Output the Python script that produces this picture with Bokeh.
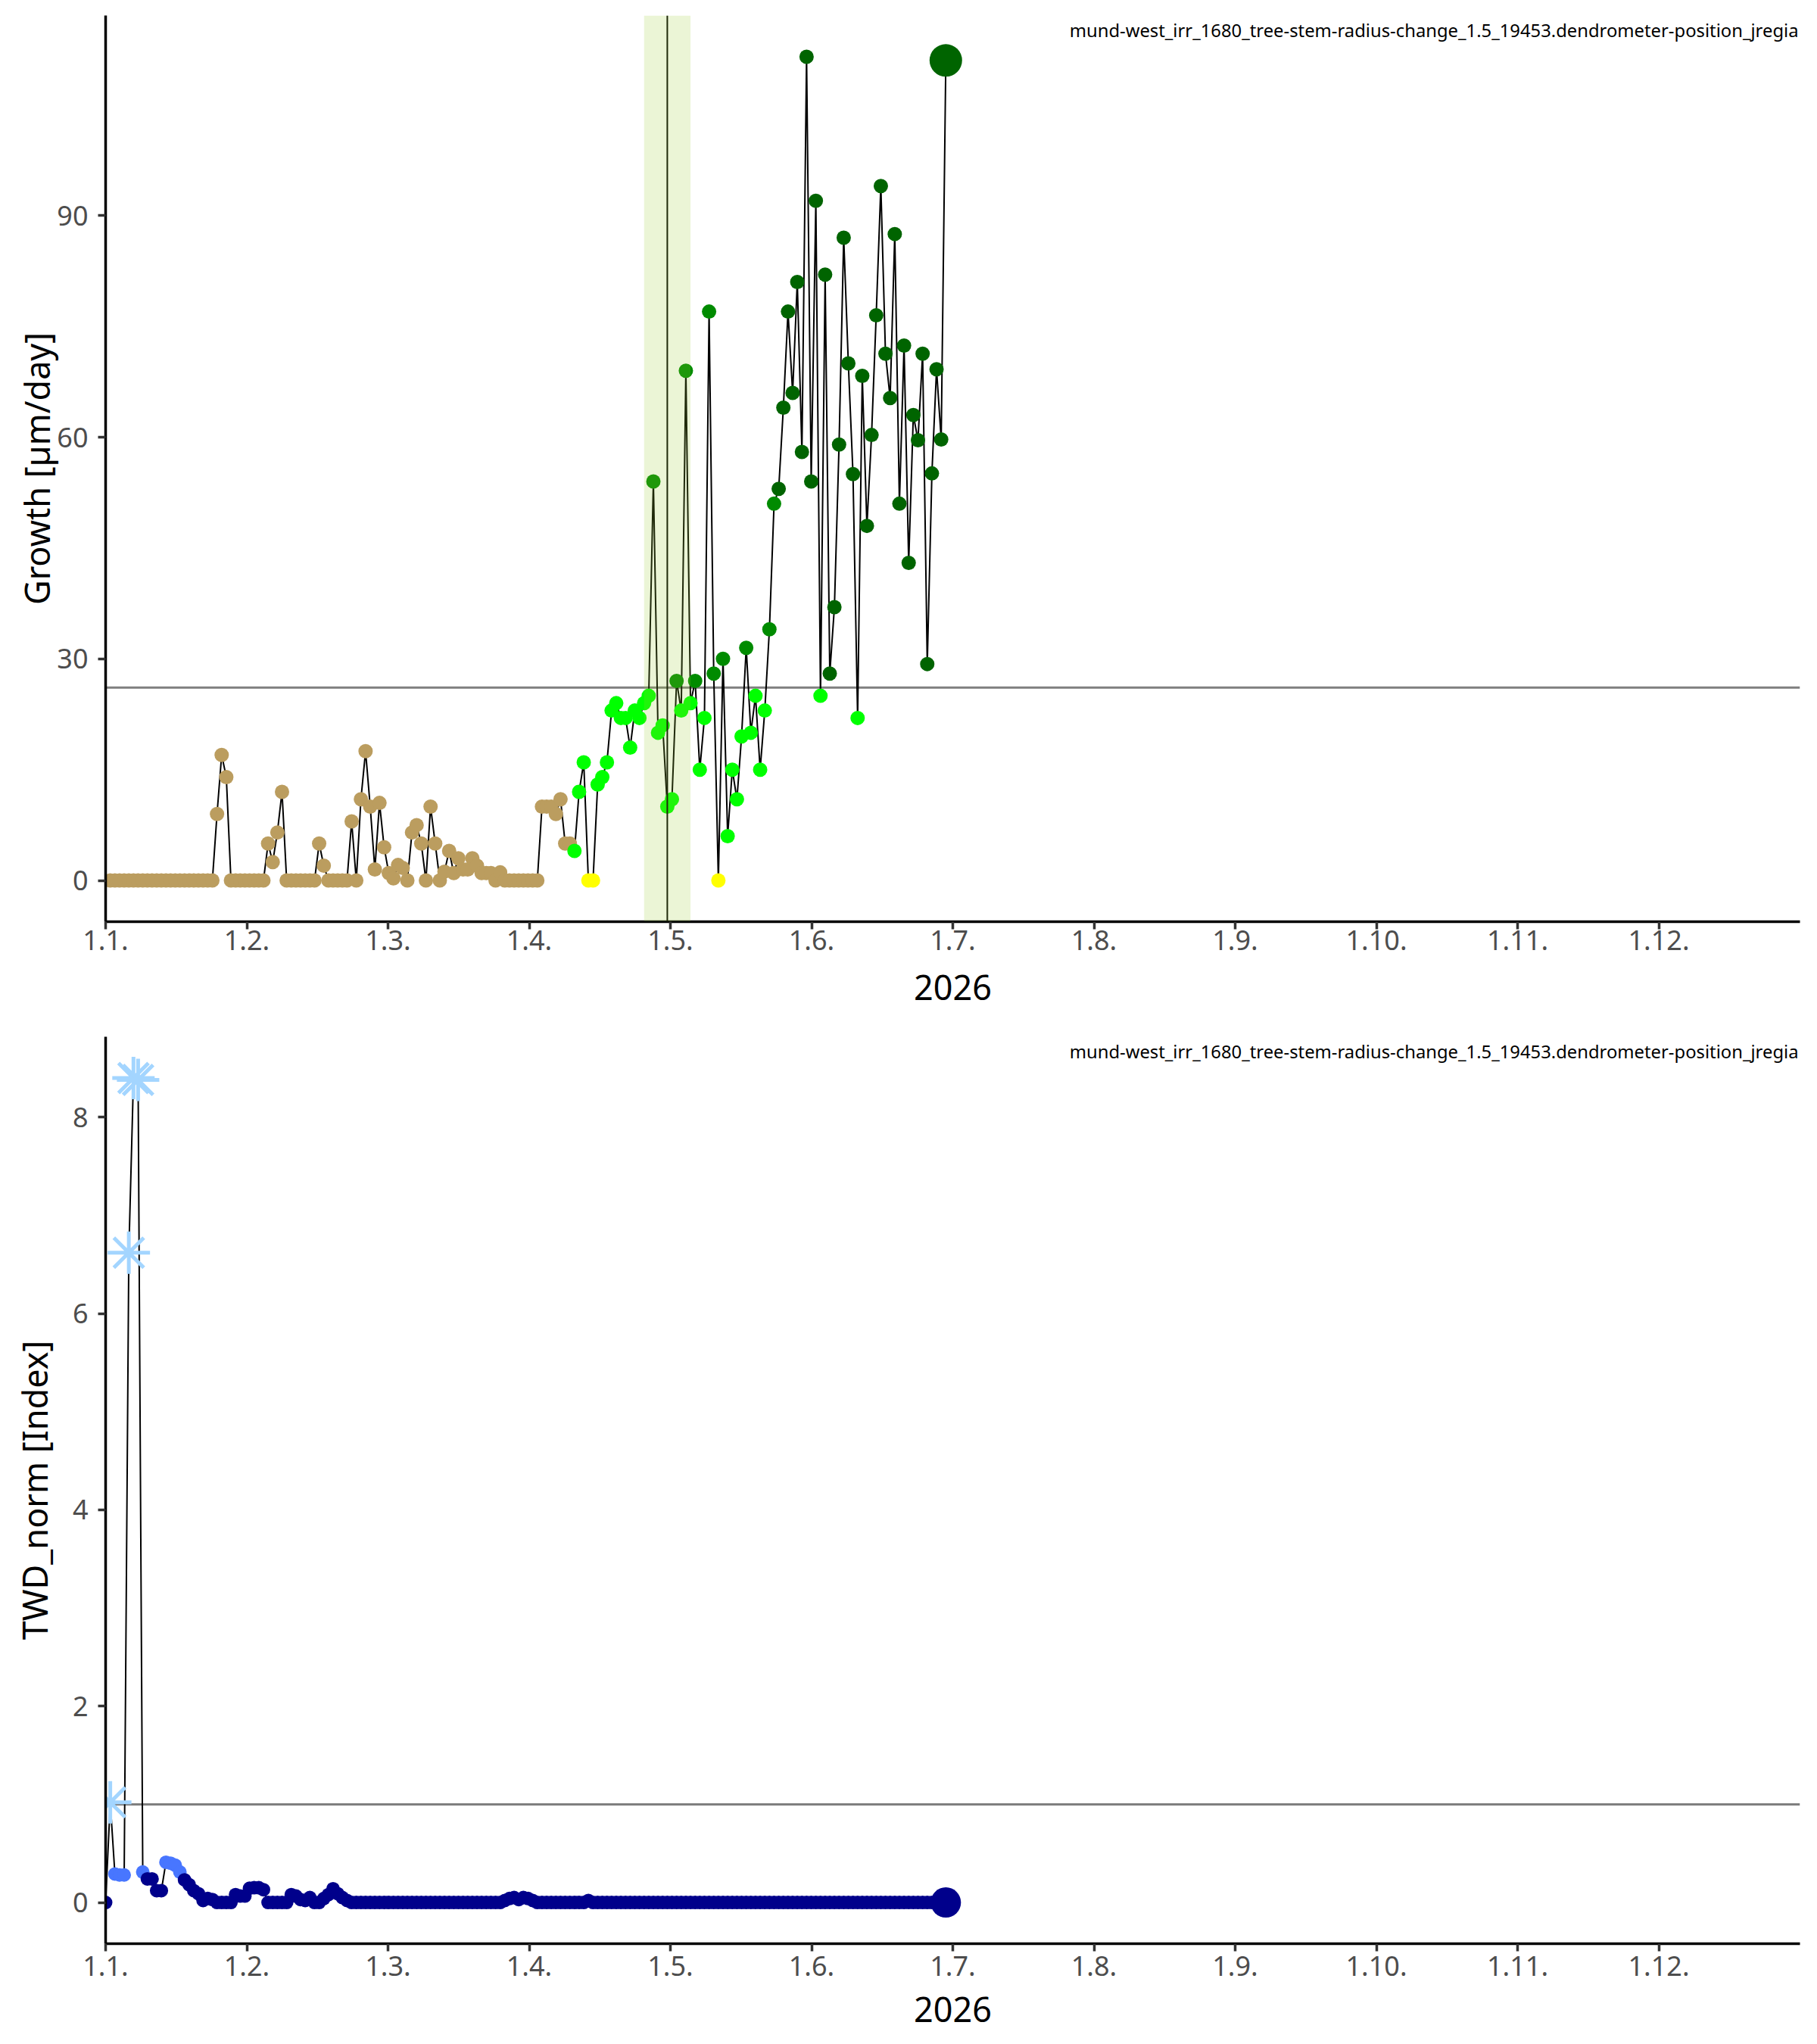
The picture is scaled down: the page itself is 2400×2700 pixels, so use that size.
import numpy as np
from bokeh.plotting import figure
from bokeh.layouts import column
from bokeh.models import Range1d, FixedTicker, Span, BoxAnnotation, Label, ColumnDataSource
from bokeh.embed import file_html
from bokeh.resources import INLINE

FONT = "Noto Sans"
TITLE = "mund-west_irr_1680_tree-stem-radius-change_1.5_19453.dendrometer-position_jregia"
YEAR_LABEL = "2026"

# x axis: 12 evenly spaced month ticks over the year (days)
year_days = 365
month_ticks = [k * year_days / 12 for k in range(12)]
month_labels = [f"1.{m}." for m in range(1, 13)]

# ---- growth series (µm/day), one value per day starting at day 1 ----
growth_first_day = 1
growth = [
    0, 0, 0, 0, 0, 0, 0, 0, 0, 0, 0, 0, 0, 0, 0, 0, 0, 0, 0, 0, 0, 0, 0,
    9, 17, 14,
    0, 0, 0, 0, 0, 0, 0, 0,
    5, 2.5, 6.5, 12,
    0, 0, 0, 0, 0, 0, 0,
    5, 2,
    0, 0, 0, 0, 0,
    8, 0, 11, 17.5, 10, 1.5, 10.5, 4.5,
    1.0, 0.3, 2.1, 1.7, 0, 6.5, 7.5, 5.0, 0, 10.0,
    5.0, 0, 1.2, 4.0, 1.0, 3.0, 1.5, 1.5, 3.0, 2.0,
    1.0, 1.0, 1.0, 0, 1.1,
    0, 0, 0, 0, 0, 0, 0, 0,
    10, 10, 10, 9, 11, 5, 5,
    4, 12, 16, 0, 0, 13, 14, 16, 23, 24,
    22, 22, 18, 23, 22, 24, 25, 54, 20, 21,
    10, 11, 27, 23, 69, 24, 27, 15, 22, 77,
    28, 0, 30, 6, 15, 11, 19.5, 31.5, 20, 25,
    15, 23, 34, 51, 53, 64, 77, 66, 81, 58,
    111.5, 54, 92, 25, 82, 28, 37, 59, 87, 70,
    55, 22, 68.3, 48, 60.3, 76.5, 94, 71.3, 65.3, 87.5,
    51, 72.4, 43, 63, 59.6, 71.3, 29.3, 55.1, 69.2, 59.7,
    111,
]
growth_threshold = 26.1
season_start_index = 100      # first day index of the growing season
late_season_index = 144       # from here strong growth is drawn dark green
onset_day = 121
onset_halfwidth = 5

# ---- TWD_norm series, one value per day starting at day 0 ----
twd_first_day = 0
twd = [
    0, 1.02, 0.29, 0.28, 0.28, 6.62, 8.40, 8.38, 0.31, 0.24,
    0.24, 0.12, 0.12, 0.41, 0.40, 0.38, 0.31, 0.23, 0.18, 0.12,
    0.09, 0.02, 0.04, 0.03, 0, 0, 0, 0, 0.08, 0.065,
    0.065, 0.145, 0.15, 0.15, 0.13, 0, 0, 0, 0, 0,
    0.08, 0.065, 0.03, 0.02, 0.05, 0, 0, 0.04, 0.08, 0.14,
    0.09, 0.05, 0.02,
] + [0] * 33 + [0.02, 0.04, 0.05, 0.03, 0.05, 0.04, 0.02] + [0] * 11 + [0.02] + [0] * 77
twd_threshold = 1.0
twd_mid = 0.25

# colours
TAN = "#BB9D5F"
YELLOW = "#FFFF00"
LIME = "#00FF00"
GREEN = "#008B00"
DARKGREEN = "#006400"
LIGHTBLUE = "#A3D5FF"
BLUE = "#4876FF"
NAVY = "#00008B"


def growth_color(i, v):
    if i < season_start_index:
        return TAN
    if v == 0:
        return YELLOW
    if v < growth_threshold:
        return LIME
    return GREEN if i < late_season_index else DARKGREEN


def twd_color(v):
    if v >= twd_threshold:
        return LIGHTBLUE
    if v >= twd_mid:
        return BLUE
    return NAVY


def style(p, ylabel, yticks, label_standoff, xtick_standoff, xlabel_standoff):
    p.xgrid.visible = False
    p.ygrid.visible = False
    p.outline_line_color = None
    p.background_fill_color = "white"
    p.border_fill_color = "white"
    for ax in (p.xaxis[0], p.yaxis[0]):
        ax.axis_line_color = "black"
        ax.axis_line_width = 3.5
        ax.major_tick_line_color = "#333333"
        ax.major_tick_line_width = 3.5
        ax.major_tick_out = 10
        ax.major_tick_in = 0
        ax.minor_tick_line_color = None
        ax.major_label_text_font = FONT
        ax.major_label_text_font_size = "36px"
        ax.major_label_text_color = "#4D4D4D"
        ax.axis_label_text_font = FONT
        ax.axis_label_text_font_size = "45px"
        ax.axis_label_text_font_style = "normal"
        ax.axis_label_text_color = "black"
    p.xaxis.ticker = FixedTicker(ticks=month_ticks)
    p.xaxis.major_label_overrides = {t: l for t, l in zip(month_ticks, month_labels)}
    p.xaxis.axis_label = YEAR_LABEL
    p.xaxis.major_label_standoff = xtick_standoff
    p.xaxis.axis_label_standoff = xlabel_standoff
    p.yaxis.ticker = FixedTicker(ticks=yticks)
    p.yaxis.axis_label = ylabel
    p.yaxis.major_label_standoff = 13
    p.yaxis.axis_label_standoff = label_standoff


def add_title(p, x, y):
    p.add_layout(Label(x=x, y=y, x_offset=-2, y_offset=-3, text=TITLE,
                       text_align="right", text_baseline="top",
                       text_font=FONT, text_font_size="23.8px", text_color="black"))


W = 2384

# ---------------- top: growth ----------------
g = np.array(growth, dtype=float)
gx = np.arange(len(g)) + growth_first_day
gcol = [growth_color(i, v) for i, v in enumerate(g)]
gsize = [19] * len(g)
gsize[-1] = 43
gmax = g.max()
gpad = gmax * 0.05

p1 = figure(width=W, height=1350, output_backend="svg", toolbar_location=None,
            x_range=Range1d(0, year_days), y_range=Range1d(-gpad, gmax + gpad),
            min_border_left=139, min_border_right=7, min_border_top=20, min_border_bottom=133)
style(p1, "Growth [µm/day]", [0, 30, 60, 90], -7, 1, 30)
p1.add_layout(Span(location=growth_threshold, dimension="width", line_color="#7F7F7F",
                   line_width=3, level="underlay"))
p1.line(gx, g, line_color="black", line_width=2)
src1 = ColumnDataSource(dict(x=gx, y=g, c=gcol, s=gsize))
p1.scatter("x", "y", source=src1, size="s", fill_color="c", line_color="c", line_width=0)
p1.line([onset_day, onset_day], [-gpad, gmax + gpad], line_color="black", line_width=2)
p1.add_layout(BoxAnnotation(left=onset_day - onset_halfwidth, right=onset_day + onset_halfwidth,
                            fill_color="#9ACD32", fill_alpha=0.2, line_color=None))
add_title(p1, year_days, gmax + gpad)

# ---------------- bottom: TWD_norm ----------------
t = np.array(twd, dtype=float)
tx = np.arange(len(t)) + twd_first_day
tcol = [twd_color(v) for v in t]
tmax = t.max()
tpad = tmax * 0.05
p2 = figure(width=W, height=1334, output_backend="svg", toolbar_location=None,
            x_range=Range1d(0, year_days), y_range=Range1d(-tpad, tmax + tpad),
            min_border_left=139, min_border_right=7, min_border_top=19, min_border_bottom=117)
style(p2, "TWD_norm [Index]", [0, 2, 4, 6, 8], 17, 6, 25)
p2.add_layout(Span(location=twd_threshold, dimension="width", line_color="#7F7F7F",
                   line_width=3, level="underlay"))
p2.line(tx, t, line_color="black", line_width=2)
circ = t < twd_threshold
tsize = np.full(len(t), 18.0)
tsize[-1] = 40
src_c = ColumnDataSource(dict(x=tx[circ], y=t[circ], c=np.array(tcol)[circ], s=tsize[circ]))
p2.scatter("x", "y", source=src_c, size="s", fill_color="c", line_color="c", line_width=0)
src_a = ColumnDataSource(dict(x=tx[~circ], y=t[~circ]))
p2.scatter("x", "y", source=src_a, marker="asterisk", size=56, line_color=LIGHTBLUE, line_width=5)
add_title(p2, year_days, tmax + tpad)

layout = column(p1, p2, spacing=0)
open("out.html", "w").write(file_html(layout, INLINE))
